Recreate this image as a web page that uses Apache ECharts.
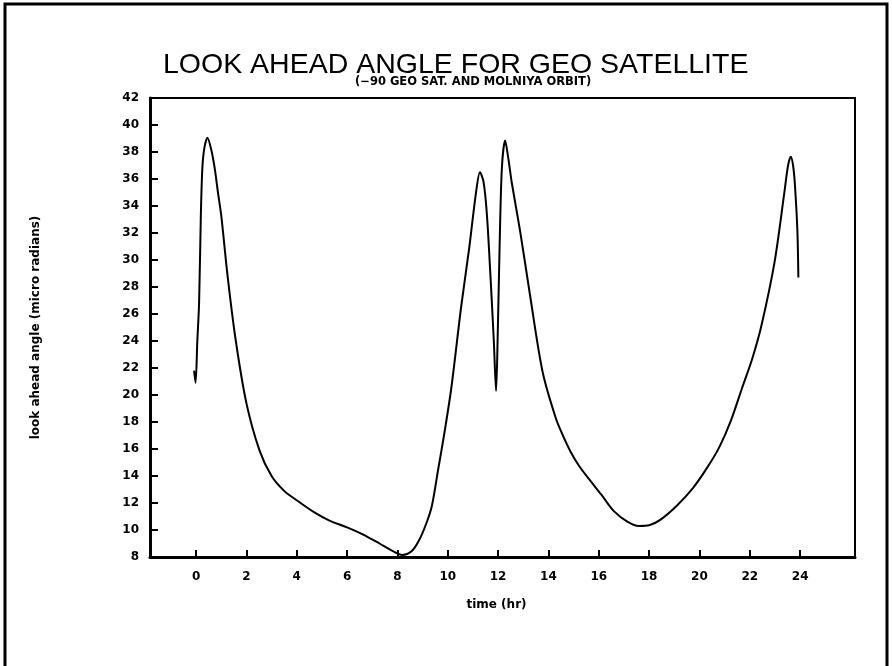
<!DOCTYPE html>
<html>
<head>
<meta charset="utf-8">
<script src="https://cdn.jsdelivr.net/npm/echarts@6/dist/echarts.min.js"></script>
<style>
html,body{margin:0;padding:0;background:#fff;}
#chart{width:892px;height:666px;}
</style>
</head>
<body>
<div id="chart"></div>
<script>
// ---- data ----
const timeHr = [-0.08,-0.02,0.05,0.12,0.19,0.25,0.33,0.45,0.6,0.74,0.87,1.0,1.26,1.58,2.0,2.52,3.0,3.5,4.0,4.7,5.3,6.0,6.6,7.29,7.8,8.2,8.55,8.85,9.15,9.37,9.62,9.85,10.14,10.53,10.86,11.12,11.28,11.42,11.55,11.7,11.83,11.92,11.98,12.06,12.15,12.28,12.4,12.55,12.87,13.26,13.77,14.29,14.6,14.88,15.2,15.6,16.11,16.6,17.15,17.6,18.0,18.44,19.1,19.74,20.3,20.78,21.25,21.69,22.1,22.47,22.98,23.37,23.52,23.63,23.72,23.79,23.89,23.93];
const lookAhead = [21.8,20.9,24.0,26.8,33.3,36.8,38.3,39.05,38.2,36.8,35.0,33.3,28.7,24.0,19.4,15.9,14.0,12.9,12.2,11.3,10.7,10.2,9.7,9.0,8.45,8.15,8.4,9.2,10.5,11.8,14.5,17.0,20.5,26.5,31.0,34.95,36.5,35.8,33.5,28.7,24.0,20.3,24.0,31.0,36.8,38.85,37.6,35.65,32.2,27.5,21.7,18.3,16.9,15.8,14.8,13.8,12.6,11.4,10.6,10.3,10.35,10.75,11.8,13.1,14.6,16.1,18.1,20.5,22.7,25.2,29.8,34.95,37.0,37.65,37.0,35.65,32.2,28.7];
const xTicks = [0,2,4,6,8,10,12,14,16,18,20,22,24];
const titleText = 'LOOK AHEAD ANGLE FOR GEO SATELLITE';
const subtitleText = '(\u221290 GEO SAT. AND MOLNIYA ORBIT)';
const xName = 'time (hr)';
const yName = 'look ahead angle (micro radians)';

const seriesData = timeHr.map((t, i) => [t, lookAhead[i]]);

const chart = echarts.init(document.getElementById('chart'), null, {renderer: 'canvas'});
const labelFont = {color: '#000', fontFamily: 'DejaVu Sans', fontWeight: 'bold', fontSize: 12};
chart.setOption({
  backgroundColor: '#fff',
  animation: false,
  title: [
    {text: titleText, left: 158, top: 46, textStyle: {fontFamily: 'Liberation Sans', fontWeight: 'normal', fontSize: 28.5, color: '#000'}},
    {text: subtitleText, left: 350, top: 71, textStyle: {fontFamily: 'DejaVu Sans', fontWeight: 'bold', fontSize: 11.5, color: '#000'}}
  ],
  grid: {left: 150, right: 37, top: 98, bottom: 109, show: true, borderColor: '#000', borderWidth: 2, backgroundColor: 'transparent'},
  xAxis: {
    type: 'value', min: -1.83, max: 26.18,
    name: xName, nameLocation: 'middle', nameGap: 42,
    nameTextStyle: Object.assign({padding: [0, 12, 0, 0]}, labelFont),
    splitLine: {show: false},
    axisLine: {show: true, onZero: false, lineStyle: {color: '#000', width: 3}},
    axisTick: {show: true, inside: true, length: 7, customValues: xTicks, lineStyle: {color: '#000', width: 2}},
    axisLabel: Object.assign({customValues: xTicks, margin: 14}, labelFont)
  },
  yAxis: {
    type: 'value', min: 8, max: 42, interval: 2,
    name: yName, nameLocation: 'middle', nameGap: 108, nameRotate: 90,
    nameTextStyle: labelFont,
    splitLine: {show: false},
    axisLine: {show: true, onZero: false, lineStyle: {color: '#000', width: 3}},
    axisTick: {show: true, inside: true, length: 8, lineStyle: {color: '#000', width: 2}},
    axisLabel: Object.assign({margin: 11}, labelFont)
  },
  graphic: [
    {type: 'rect', shape: {x: 5, y: 4, width: 882, height: 680}, style: {fill: 'none', stroke: '#000', lineWidth: 3}, silent: true}
  ],
  series: [{
    type: 'line', data: seriesData, showSymbol: false, smooth: 0.3,
    lineStyle: {color: '#000', width: 2}
  }]
});
</script>
</body>
</html>
